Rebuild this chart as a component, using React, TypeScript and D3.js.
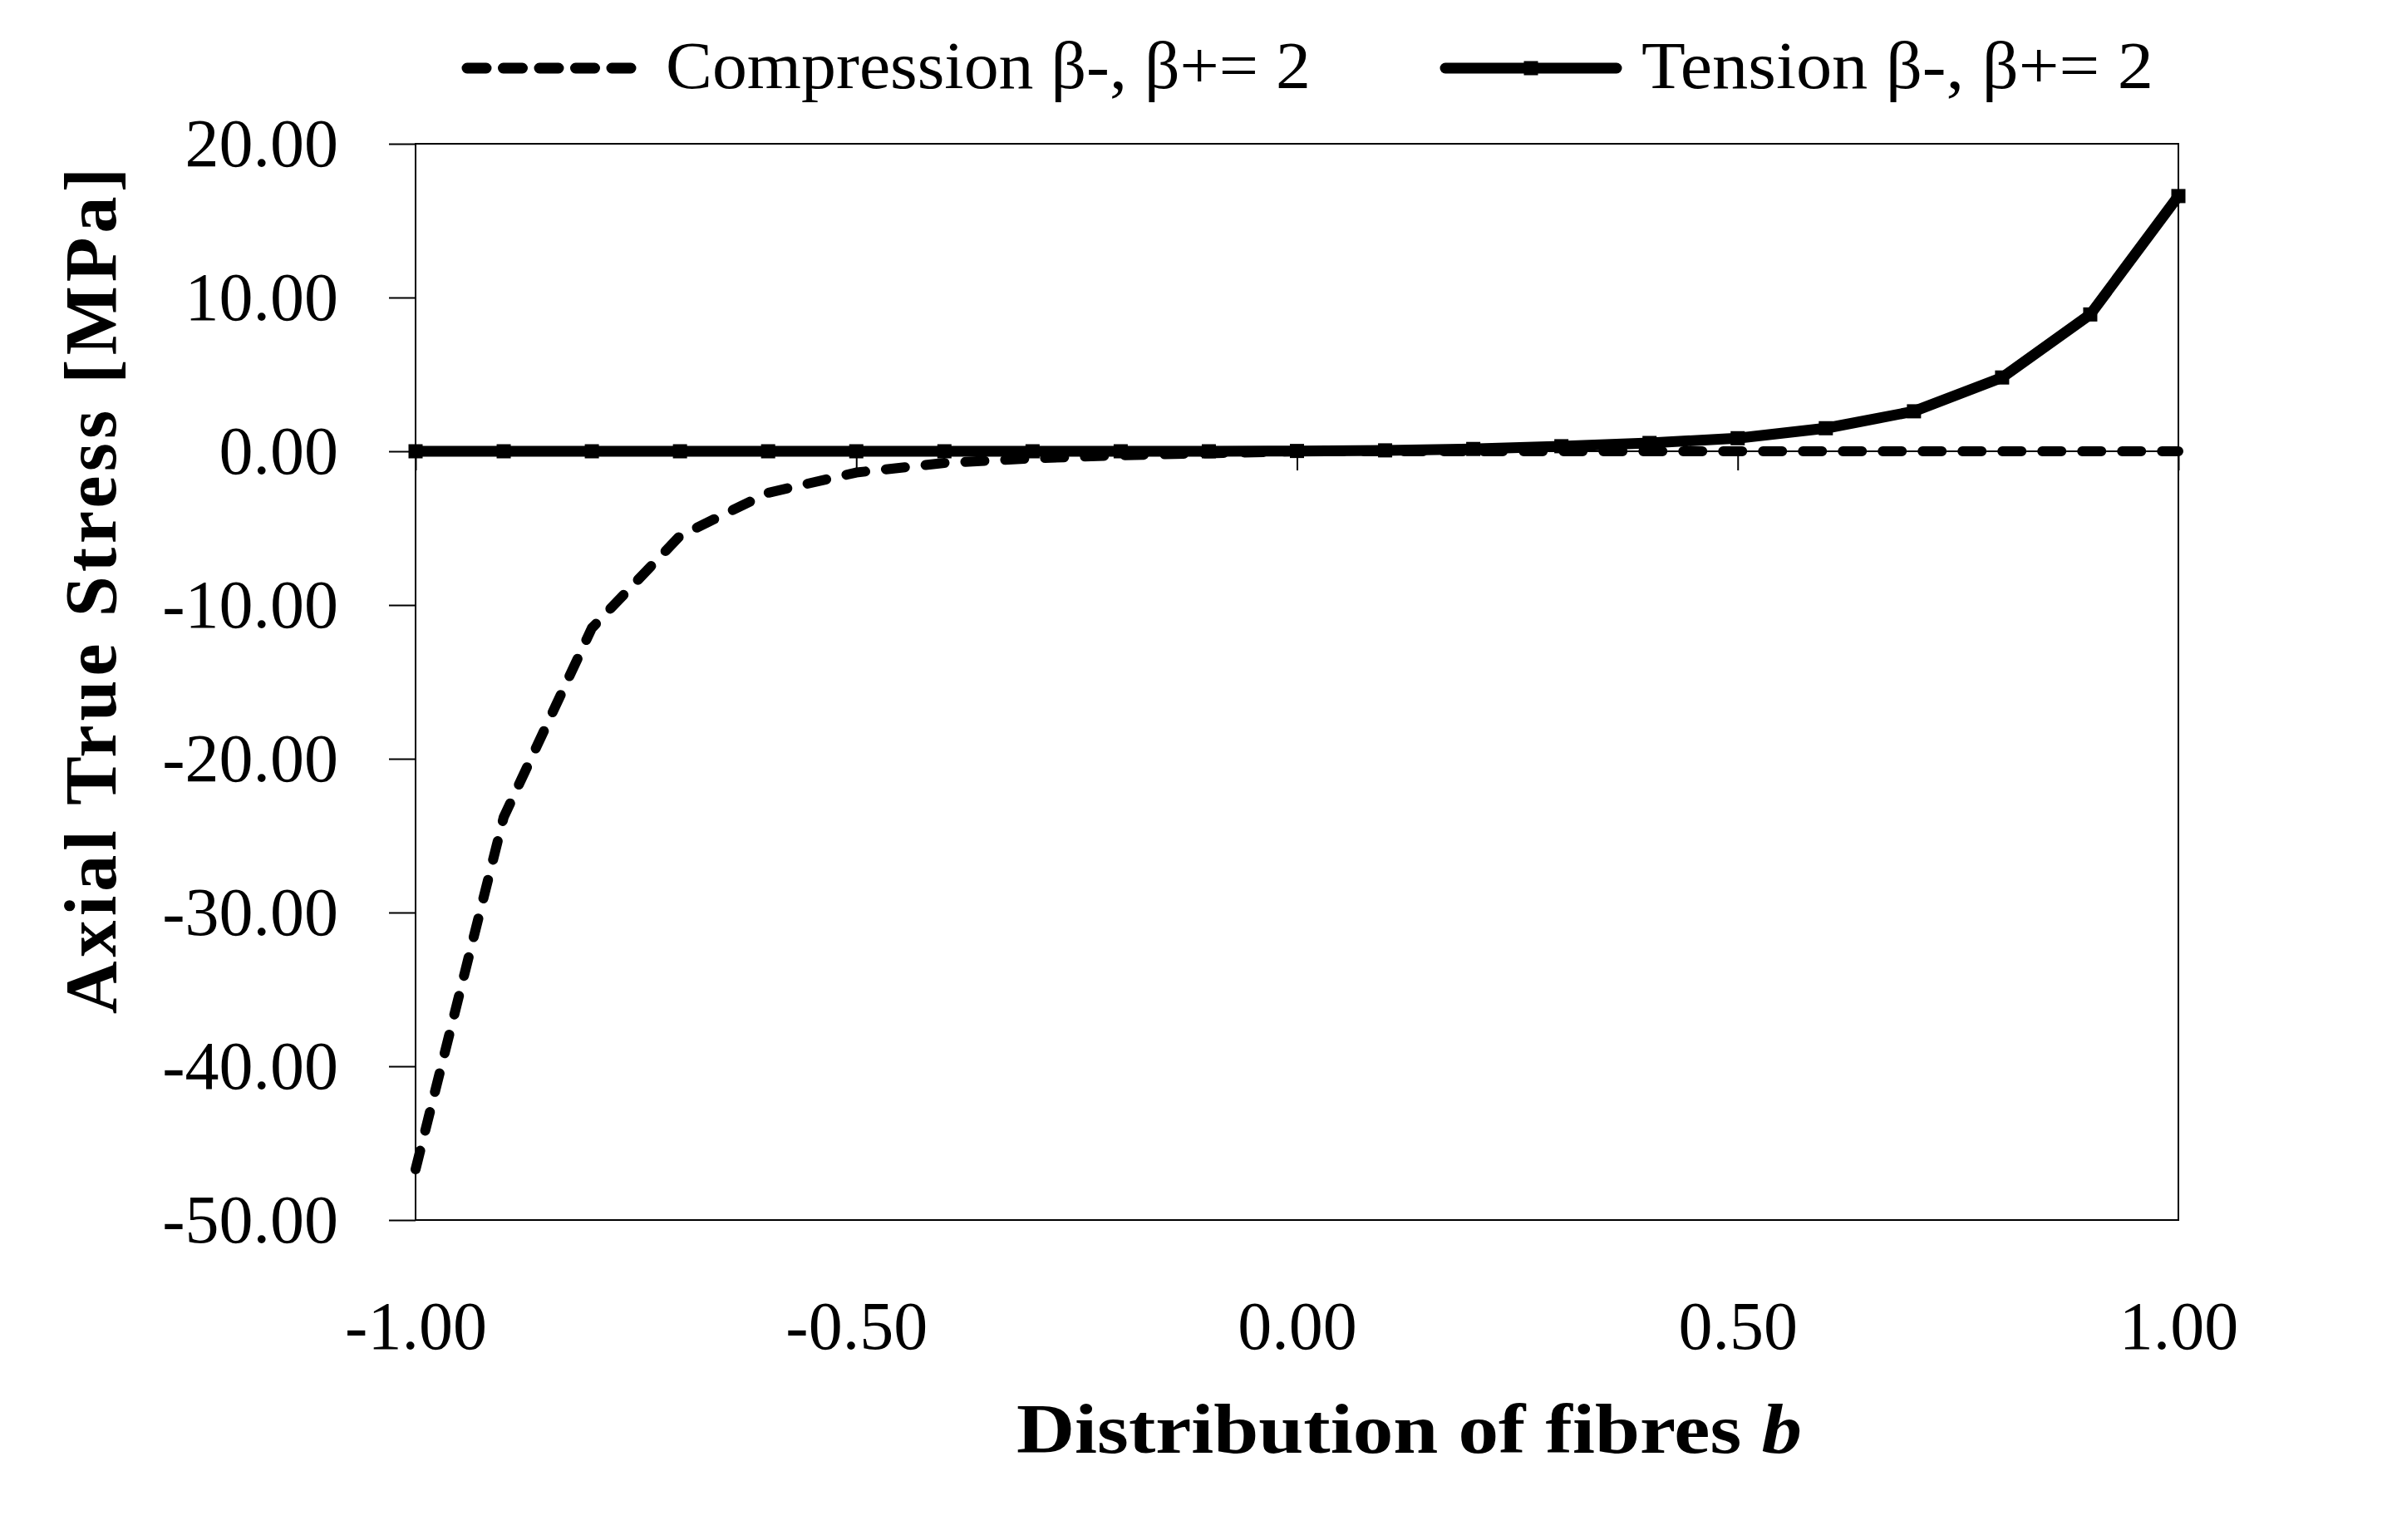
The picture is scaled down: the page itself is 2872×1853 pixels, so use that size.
import React from 'react'
import * as d3 from 'd3'

// values
const bValues = [
  -1.0, -0.9, -0.8, -0.7, -0.6, -0.5, -0.4, -0.3, -0.2, -0.1, 0.0, 0.1, 0.2,
  0.3, 0.4, 0.5, 0.6, 0.7, 0.8, 0.9, 1.0,
]
const compression = [
  -46.7, -23.8, -11.5, -5.5, -2.7, -1.38, -0.76, -0.46, -0.26, -0.13, 0, 0, 0,
  0, 0, 0, 0, 0, 0, 0, 0,
]
const tension = [
  0, 0, 0, 0, 0, 0, 0, 0, 0, 0, 0.02, 0.06, 0.15, 0.33, 0.54, 0.85, 1.5, 2.6,
  4.8, 8.9, 16.6,
]
const xTicks = [-1, -0.5, 0, 0.5, 1]
const yTicks = [20, 10, 0, -10, -20, -30, -40, -50]

const compressionLabel = 'Compression β-, β+= 2'
const tensionLabel = 'Tension β-, β+= 2'
const yTitle = 'Axial True Stress [MPa]'
const xTitle = 'Distribution of fibres '
const xTitleVar = 'b'

const width = 2872
const height = 1853
const margin = { top: 173, left: 500, bottom: 385, right: 251 }
const font = '"Liberation Serif", "Times New Roman", serif'

const App: React.FunctionComponent = () => {
  const xTickRef = React.useRef<SVGGElement>(null)
  const xLabelRef = React.useRef<SVGGElement>(null)
  const yAxisRef = React.useRef<SVGGElement>(null)

  const xScale = d3
    .scaleLinear()
    .domain([-1, 1])
    .range([margin.left, width - margin.right])
  const yScale = d3
    .scaleLinear()
    .domain([-50, 20])
    .range([height - margin.bottom, margin.top])

  const line = d3
    .line<number>()
    .x((_, i) => xScale(bValues[i]))
    .y(d => yScale(d))

  React.useEffect(() => {
    const fmt = (d: d3.NumberValue) => (+d).toFixed(2)

    d3.select(yAxisRef.current)
      .call(
        d3
          .axisLeft(yScale)
          .tickValues(yTicks)
          .tickSize(32)
          .tickPadding(61)
          .tickFormat(fmt)
      )
      .attr('font-size', 82)
      .attr('font-family', font)
      .call(g => g.select('.domain').remove())
      .call(g => g.selectAll('line').attr('stroke-width', 2))
      .call(g => g.selectAll('text').attr('fill', '#000'))

    d3.select(xTickRef.current)
      .call(
        d3
          .axisBottom(xScale)
          .tickValues(xTicks)
          .tickSize(23)
          .tickFormat(() => '')
      )
      .call(g => g.select('.domain').remove())
      .call(g => g.selectAll('line').attr('stroke-width', 2))

    d3.select(xLabelRef.current)
      .call(
        d3
          .axisBottom(xScale)
          .tickValues(xTicks)
          .tickSize(0)
          .tickPadding(97)
          .tickFormat(fmt)
      )
      .attr('font-size', 82)
      .attr('font-family', font)
      .call(g => g.select('.domain').remove())
      .call(g => g.selectAll('line').remove())
      .call(g => g.selectAll('text').attr('fill', '#000'))
  }, [])

  const plotW = width - margin.left - margin.right
  const plotH = height - margin.top - margin.bottom

  return (
    <svg
      width={width}
      height={height}
      style={{ position: 'absolute', left: 0, top: 0, background: '#fff' }}
      fontFamily={font}
    >
      <rect
        x={margin.left}
        y={margin.top}
        width={plotW}
        height={plotH}
        fill="none"
        stroke="#000"
        strokeWidth={2}
      />
      <line
        x1={margin.left}
        x2={width - margin.right}
        y1={yScale(0)}
        y2={yScale(0)}
        stroke="#000"
        strokeWidth={2}
      />
      <g ref={yAxisRef} transform={`translate(${margin.left}, 0)`} />
      <g ref={xTickRef} transform={`translate(0, ${yScale(0)})`} />
      <g ref={xLabelRef} transform={`translate(0, ${height - margin.bottom})`} />

      <path
        d={line(compression) || ''}
        fill="none"
        stroke="#000"
        strokeWidth={12}
        strokeDasharray="23 25"
        strokeLinecap="round"
        strokeLinejoin="round"
      />
      <path
        d={line(tension) || ''}
        fill="none"
        stroke="#000"
        strokeWidth={13}
        strokeLinecap="round"
        strokeLinejoin="round"
      />
      {tension.map((d, i) => (
        <rect
          key={i}
          x={xScale(bValues[i]) - 8.5}
          y={yScale(d) - 8.5}
          width={17}
          height={17}
          fill="#000"
        />
      ))}

      {/* legend */}
      <line
        x1={562}
        x2={769}
        y1={82}
        y2={82}
        stroke="#000"
        strokeWidth={13}
        strokeDasharray="23 20.5"
        strokeLinecap="round"
      />
      <text
        x={801}
        y={106}
        fontSize={80}
        textLength={776}
        lengthAdjust="spacingAndGlyphs"
      >
        {compressionLabel}
      </text>
      <line
        x1={1739}
        x2={1945}
        y1={82}
        y2={82}
        stroke="#000"
        strokeWidth={13}
        strokeLinecap="round"
      />
      <rect x={1833.5} y={73.5} width={17} height={17} fill="#000" />
      <text
        x={1975}
        y={106}
        fontSize={80}
        textLength={616}
        lengthAdjust="spacingAndGlyphs"
      >
        {tensionLabel}
      </text>

      {/* axis titles */}
      <text
        transform="translate(139, 711) rotate(-90)"
        textAnchor="middle"
        fontSize={88}
        fontWeight="bold"
        textLength={1018}
        lengthAdjust="spacing"
      >
        {yTitle}
      </text>
      <text
        x={1223}
        y={1748}
        fontSize={84}
        fontWeight="bold"
        textLength={945}
        lengthAdjust="spacingAndGlyphs"
      >
        {xTitle}
        <tspan fontStyle="italic">{xTitleVar}</tspan>
      </text>
    </svg>
  )
}

export default App
